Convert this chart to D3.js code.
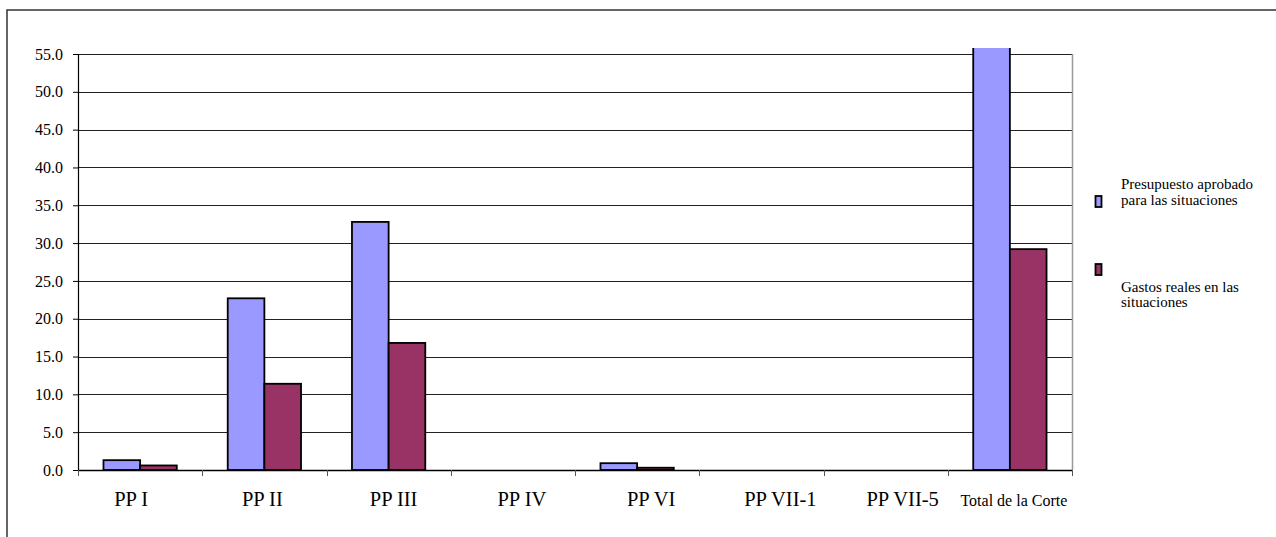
<!DOCTYPE html>
<html>
<head>
<meta charset="utf-8">
<script src="https://cdn.jsdelivr.net/npm/d3@7"></script>
<style>
  html, body { margin: 0; padding: 0; background: #fff; }
  svg { display: block; }
  svg text { font-family: "Liberation Serif", "DejaVu Serif", serif !important; }
</style>
</head>
<body>
<svg id="chart" width="1276" height="537"></svg>
<script>
// ---- data ----
const categories = ["PP I", "PP II", "PP III", "PP IV", "PP VI", "PP VII-1", "PP VII-5", "Total de la Corte"];
const presupuesto = [1.3, 22.7, 32.8, 0, 0.9, 0, 0, 57.7];
const gastos = [0.6, 11.4, 16.8, 0, 0.3, 0, 0, 29.2];
const seriesNames = ["Presupuesto aprobado para las situaciones", "Gastos reales en las situaciones"];
const legendLines = [["Presupuesto aprobado", "para las situaciones"], ["Gastos reales en las", "situaciones"]];
const yTicks = [0, 5, 10, 15, 20, 25, 30, 35, 40, 45, 50, 55];
const colors = ["#9999FF", "#993366"];
// layout nudges for category labels (as rendered in the original)
const labelDx = [-9, -2, 5, 9, 14, 19, 17, 4];

// ---- layout ----
const svg = d3.select("#chart");
const L = 78, R = 1072, T = 54, B = 470, clipTop = 48;
const serif = "'Liberation Serif', 'DejaVu Serif', serif";

// outer frame
svg.append("rect").attr("x", 7).attr("y", 10).attr("width", 1290).attr("height", 560)
  .attr("fill", "none").attr("stroke", "#333").attr("stroke-width", 1.5);

const y = d3.scaleLinear().domain([0, 55]).range([B, T]);
const x0 = d3.scaleBand().domain(categories).range([L, R]).padding(0);
const gap = x0.step() * 0.41;
const x1 = d3.scaleBand().domain(seriesNames).range([gap / 2, x0.step() - gap / 2]).padding(0);

// gridlines
svg.append("g").selectAll("line").data(yTicks.filter(d => d > 0)).join("line")
  .attr("x1", L).attr("x2", R)
  .attr("y1", d => Math.round(y(d)) + 0.5).attr("y2", d => Math.round(y(d)) + 0.5)
  .attr("stroke", "#222").attr("stroke-width", 1);

// right plot border
svg.append("line").attr("x1", R + 0.5).attr("x2", R + 0.5).attr("y1", T).attr("y2", B)
  .attr("stroke", "#999").attr("stroke-width", 1.5);

// bars
svg.append("defs").append("clipPath").attr("id", "plotclip")
  .append("rect").attr("x", L).attr("y", clipTop).attr("width", R - L).attr("height", B - clipTop + 2);

const rows = categories.map((c, i) => ({ cat: c, vals: [presupuesto[i], gastos[i]] }));
const barsG = svg.append("g").attr("clip-path", "url(#plotclip)");
barsG.selectAll("g").data(rows).join("g")
  .attr("transform", d => `translate(${x0(d.cat)},0)`)
  .selectAll("rect").data(d => d.vals.map((v, k) => ({ v, k })).filter(e => e.v > 0)).join("rect")
  .attr("x", e => x1(seriesNames[e.k]))
  .attr("width", x1.bandwidth())
  .attr("y", e => y(e.v))
  .attr("height", e => B - y(e.v))
  .attr("fill", e => colors[e.k])
  .attr("stroke", "#000").attr("stroke-width", 1.8);

// y axis
const yAxis = d3.axisLeft(y).tickValues(yTicks).tickFormat(d3.format(".1f")).tickSize(5).tickPadding(10);
const yg = svg.append("g").attr("transform", `translate(${L},0)`).call(yAxis)
  .attr("font-family", serif).attr("font-size", 16);
yg.select(".domain").attr("stroke", "#000").attr("stroke-width", 1.2);
yg.selectAll(".tick line").attr("stroke", "#000");
yg.selectAll(".tick text").attr("fill", "#000").style("font-family", serif).style("font-size", "16px");

// x axis
const xTickScale = d3.scaleLinear().domain([0, categories.length]).range([L, R]);
const xg = svg.append("g");
xg.append("line").attr("x1", L).attr("x2", R).attr("y1", B + 0.5).attr("y2", B + 0.5)
  .attr("stroke", "#000").attr("stroke-width", 1.5);
xg.selectAll("line.tk").data(d3.range(categories.length + 1)).join("line").attr("class", "tk")
  .attr("x1", d => Math.round(xTickScale(d)) + 0.5).attr("x2", d => Math.round(xTickScale(d)) + 0.5)
  .attr("y1", B).attr("y2", B + 6).attr("stroke", "#555").attr("stroke-width", 1);
xg.selectAll("text").data(categories).join("text")
  .attr("x", (d, i) => x0(d) + x0.bandwidth() / 2 + labelDx[i])
  .attr("y", 506)
  .attr("text-anchor", "middle")
  .style("font-family", serif)
  .style("font-size", (d, i) => (i === categories.length - 1 ? 16 : 20.5) + "px")
  .attr("fill", "#000")
  .text(d => d);

// legend
const legY = [[189, 205], [292, 307]];
const markY = [196, 264];
const leg = svg.append("g");
seriesNames.forEach((s, k) => {
  leg.append("rect").attr("x", 1095.5).attr("y", markY[k]).attr("width", 6).attr("height", 11)
    .attr("fill", colors[k]).attr("stroke", "#000").attr("stroke-width", 1.8);
  legendLines[k].forEach((line, j) => {
    leg.append("text").attr("x", 1121).attr("y", legY[k][j])
      .style("font-family", serif).style("font-size", "15px")
      .attr("fill", "#000").text(line);
  });
});
</script>
</body>
</html>
